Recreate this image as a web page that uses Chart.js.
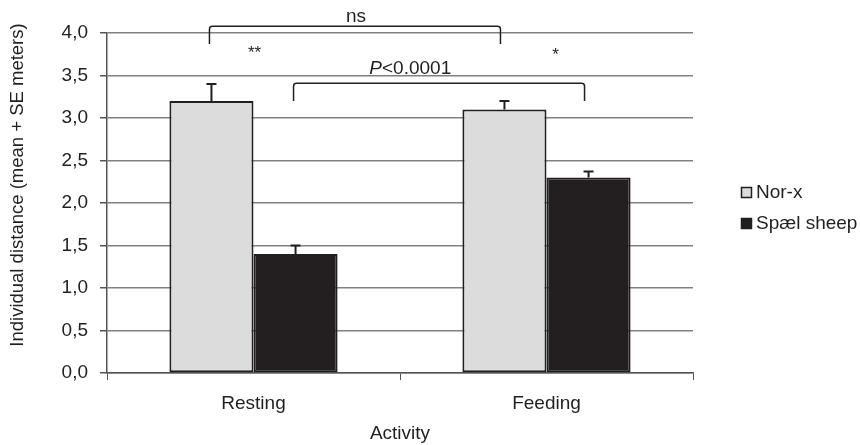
<!DOCTYPE html>
<html>
<head>
<meta charset="utf-8">
<script src="https://cdn.jsdelivr.net/npm/chart.js@4"></script>
<style>
  html,body{margin:0;padding:0;background:#fff;}
  #wrap{width:860px;height:445px;}
</style>
</head>
<body>
<div id="wrap"><canvas id="distBar" width="860" height="445"></canvas></div>
<script>
// --- data ---
var activities = ['Resting', 'Feeding'];
var seriesNames = ['Nor-x', 'Spæl sheep'];
var norxMean = [3.2, 3.1];
var norxSE   = [0.2, 0.1];
var spaelMean = [1.4, 2.3];
var spaelSE   = [0.1, 0.07];
var yTicks = [0, 0.5, 1, 1.5, 2, 2.5, 3, 3.5, 4];
var yTitle = 'Individual distance (mean + SE meters)';

// brackets between bars: [dataset, index] -> [dataset, index]; label x in category units
var brackets = [
  {from:[0,0], to:[0,1], top:4.08, leg:3.87, label:'ns', labelX:0.35, labelY:4.135},
  {from:[1,0], to:[1,1], top:3.41, leg:3.2, label:'P<0.0001', labelX:0.535, labelY:3.52}
];
var stars = [{cat:0, y:3.8, text:'**'}, {cat:1, y:3.78, text:'*'}];

(function(){
  var FONT = 'Liberation Sans, Arial, sans-serif';
  var INK = '#231f20';

  var extras = {
    id:'extras',
    afterDatasetsDraw:function(chart){
      var c = chart.ctx, ys = chart.scales.y;
      var se = [norxSE, spaelSE], mean = [norxMean, spaelMean];
      c.save();
      c.strokeStyle = INK; c.lineWidth = 2;
      for(var d=0; d<2; d++){
        var meta = chart.getDatasetMeta(d);
        meta.data.forEach(function(bar, i){
          var yTop = ys.getPixelForValue(mean[d][i] + se[d][i]);
          var yBase = ys.getPixelForValue(mean[d][i]);
          c.beginPath();
          c.moveTo(bar.x, yBase); c.lineTo(bar.x, yTop);
          c.moveTo(bar.x-5, yTop); c.lineTo(bar.x+5, yTop);
          c.stroke();
        });
      }
      c.restore();
    },
    afterDraw:function(chart){
      var c = chart.ctx, ys = chart.scales.y, xs = chart.scales.x;
      c.save();
      c.strokeStyle = INK; c.lineWidth = 1.5; c.fillStyle = INK;
      brackets.forEach(function(b){
        var x1 = chart.getDatasetMeta(b.from[0]).data[b.from[1]].x - 2;
        var x2 = chart.getDatasetMeta(b.to[0]).data[b.to[1]].x - 4;
        var yt = ys.getPixelForValue(b.top), yl = ys.getPixelForValue(b.leg);
        c.beginPath();
        c.moveTo(x1, yl); c.lineTo(x1, yt+3);
        c.quadraticCurveTo(x1, yt, x1+3, yt);
        c.lineTo(x2-3, yt);
        c.quadraticCurveTo(x2, yt, x2, yt+3);
        c.lineTo(x2, yl);
        c.stroke();
        var cx = xs.getPixelForValue(b.labelX), ty = ys.getPixelForValue(b.labelY);
        c.textBaseline = 'alphabetic';
        if(b.label.charAt(0) === 'P'){
          c.font = 'italic 19px ' + FONT;
          var wP = c.measureText('P').width;
          c.font = '19px ' + FONT;
          var rest = b.label.slice(1), wR = c.measureText(rest).width;
          var sx = cx - (wP+wR)/2;
          c.textAlign = 'left';
          c.font = 'italic 19px ' + FONT; c.fillText('P', sx, ty);
          c.font = '19px ' + FONT; c.fillText(rest, sx+wP, ty);
        } else {
          c.font = '19px ' + FONT; c.textAlign = 'center';
          c.fillText(b.label, cx, ty);
        }
      });
      c.font = '17px ' + FONT; c.textAlign = 'center';
      stars.forEach(function(s){
        var x = xs.getPixelForValue(s.cat) + (s.text.length === 1 ? 9 : 1);
        c.fillText(s.text, x, ys.getPixelForValue(s.y) + 8);
      });
      // y axis title
      c.save();
      c.translate(18, 185);
      c.rotate(-Math.PI/2);
      c.font = '18.5px ' + FONT; c.textAlign = 'center'; c.textBaseline = 'middle';
      c.fillText(yTitle, 0, 0);
      c.restore();
      // legend
      var colors = ['#dcdcdd', INK], ly = [192, 223];
      c.font = '19px ' + FONT; c.textAlign = 'left'; c.textBaseline = 'middle';
      for(var k=0; k<2; k++){
        c.fillStyle = colors[k];
        c.fillRect(741, ly[k]-5, 11, 11);
        c.lineWidth = 1.5; c.strokeStyle = INK;
        c.strokeRect(741.5, ly[k]-4.5, 10, 10);
        c.fillStyle = INK;
        c.fillText(seriesNames[k], 756, ly[k]+1);
      }
      c.restore();
    }
  };

  new Chart(document.getElementById('distBar'),{
    type:'bar',
    data:{
      labels: activities,
      datasets:[
        {label:seriesNames[0], data:norxMean, backgroundColor:'#dcdcdd', borderColor:INK, borderWidth:2, borderSkipped:false},
        {label:seriesNames[1], data:spaelMean, backgroundColor:INK, borderColor:INK, borderWidth:2, borderSkipped:false}
      ]
    },
    options:{
      responsive:false,
      animation:false,
      layout:{padding:{left:0, top:33, right:167, bottom:0}},
      datasets:{bar:{categoryPercentage:0.574, barPercentage:1}},
      plugins:{legend:{display:false}, tooltip:{enabled:false}},
      scales:{
        x:{
          afterFit:function(s){ s.height = 72; },
          grid:{offset:true, drawOnChartArea:false, drawTicks:true, tickLength:7, color:'#555'},
          border:{color:'#555', width:1.5},
          ticks:{font:{size:19, family:FONT}, color:INK, padding:12},
          title:{display:true, text:'Activity', font:{size:19, family:FONT}, color:INK, padding:{top:0, bottom:0}}
        },
        y:{
          min:0, max:4,
          afterFit:function(s){ s.width = 107; },
          afterBuildTicks:function(s){ s.ticks = yTicks.map(function(v){ return {value:v}; }); },
          grid:{color:'#808080', lineWidth:1.5, tickLength:7, tickColor:'#555'},
          border:{color:'#555', width:1.5},
          ticks:{font:{size:19, family:FONT}, color:INK, padding:12,
            callback:function(v){ return v.toFixed(1).replace('.', ','); }},
          title:{display:false}
        }
      }
    },
    plugins:[extras]
  });
})();
</script>
</body>
</html>
